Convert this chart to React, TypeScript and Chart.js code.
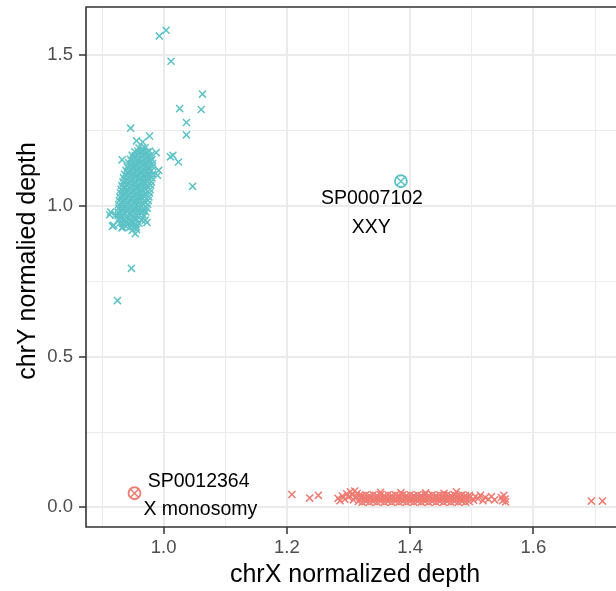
import React, { useEffect, useRef } from "react";
import { Chart, registerables } from "chart.js";
Chart.register(...registerables);

const xTickValues = [0.9, 1.0, 1.1, 1.2, 1.3, 1.4, 1.5, 1.6, 1.7];
const xMajorTicks = [1.0, 1.2, 1.4, 1.6];
const yTickValues = [0, 0.25, 0.5, 0.75, 1.0, 1.25, 1.5];
const yMajorTicks = [0, 0.5, 1.0, 1.5];
const xRange = [0.874, 1.734];
const yRange = [-0.065, 1.66];

const xAxisTitle = "chrX normalized depth";
const yAxisTitle = "chrY normalied depth";

const cyanColor = "#5CC2C6";
const redColor = "#EF7A71";

// cyan group: scattered samples
const cyanOutliers: [number, number][] = [
  [1.004, 1.583], [0.993, 1.564], [1.012, 1.48], [1.063, 1.371], [1.026, 1.323], [1.061, 1.32],
  [1.037, 1.277], [1.037, 1.236], [0.9465, 1.258], [0.956, 1.216], [0.966, 1.212], [0.977, 1.232],
  [0.988, 1.177], [1.011, 1.163], [1.015, 1.168], [1.024, 1.146], [0.9326, 1.153], [0.992, 1.118],
  [0.99, 1.102], [1.047, 1.065], [0.914, 0.98], [0.922, 0.969], [0.9125, 0.971], [0.919, 0.936],
  [0.917, 0.933], [0.9326, 0.927], [0.949, 0.919], [0.954, 0.908], [0.956, 0.922], [0.97, 0.953],
  [0.973, 0.945], [0.9477, 0.793], [0.925, 0.686],
];

// cyan group: dense cluster
const cyanCluster: [number, number][] = [
  [0.960, 1.192], [0.965, 1.190], [0.970, 1.193],
  [0.953, 1.180], [0.958, 1.182], [0.963, 1.178], [0.968, 1.181], [0.973, 1.179], [0.977, 1.182],
  [0.949, 1.168], [0.954, 1.166], [0.959, 1.170], [0.964, 1.167], [0.969, 1.169], [0.974, 1.166], [0.979, 1.168],
  [0.946, 1.155], [0.951, 1.157], [0.956, 1.154], [0.961, 1.156], [0.966, 1.153], [0.971, 1.157], [0.976, 1.155], [0.981, 1.154],
  [0.943, 1.143], [0.948, 1.141], [0.953, 1.144], [0.958, 1.142], [0.963, 1.145], [0.968, 1.141], [0.973, 1.143], [0.978, 1.144], [0.982, 1.141],
  [0.941, 1.130], [0.946, 1.132], [0.951, 1.129], [0.956, 1.131], [0.961, 1.128], [0.966, 1.132], [0.971, 1.130], [0.976, 1.129], [0.982, 1.131],
  [0.939, 1.118], [0.944, 1.116], [0.949, 1.119], [0.954, 1.117], [0.959, 1.120], [0.964, 1.116], [0.969, 1.118], [0.974, 1.119], [0.980, 1.117],
  [0.937, 1.105], [0.942, 1.107], [0.947, 1.104], [0.952, 1.106], [0.957, 1.103], [0.962, 1.107], [0.967, 1.105], [0.972, 1.104], [0.977, 1.106], [0.982, 1.105],
  [0.935, 1.093], [0.940, 1.091], [0.945, 1.094], [0.950, 1.092], [0.955, 1.095], [0.960, 1.091], [0.965, 1.093], [0.970, 1.094], [0.975, 1.092], [0.981, 1.093],
  [0.934, 1.080], [0.939, 1.082], [0.944, 1.079], [0.949, 1.081], [0.954, 1.078], [0.959, 1.082], [0.964, 1.080], [0.969, 1.079], [0.974, 1.081], [0.980, 1.080],
  [0.932, 1.068], [0.937, 1.066], [0.942, 1.069], [0.947, 1.067], [0.952, 1.070], [0.957, 1.066], [0.962, 1.068], [0.967, 1.069], [0.972, 1.067], [0.979, 1.068],
  [0.931, 1.055], [0.936, 1.057], [0.941, 1.054], [0.946, 1.056], [0.951, 1.053], [0.956, 1.057], [0.961, 1.055], [0.966, 1.054], [0.971, 1.056], [0.978, 1.055],
  [0.930, 1.043], [0.935, 1.041], [0.940, 1.044], [0.945, 1.042], [0.950, 1.045], [0.955, 1.041], [0.960, 1.043], [0.965, 1.044], [0.970, 1.042], [0.977, 1.043],
  [0.929, 1.030], [0.934, 1.032], [0.939, 1.029], [0.944, 1.031], [0.949, 1.028], [0.954, 1.032], [0.959, 1.030], [0.964, 1.029], [0.969, 1.031], [0.976, 1.030],
  [0.928, 1.018], [0.933, 1.016], [0.938, 1.019], [0.943, 1.017], [0.948, 1.020], [0.953, 1.016], [0.958, 1.018], [0.963, 1.019], [0.968, 1.017], [0.975, 1.018],
  [0.927, 1.005], [0.932, 1.007], [0.937, 1.004], [0.942, 1.006], [0.947, 1.003], [0.952, 1.007], [0.957, 1.005], [0.962, 1.004], [0.967, 1.006], [0.974, 1.005],
  [0.927, 0.993], [0.932, 0.991], [0.937, 0.994], [0.942, 0.992], [0.947, 0.995], [0.952, 0.991], [0.957, 0.993], [0.962, 0.994], [0.968, 0.992], [0.973, 0.993],
  [0.926, 0.980], [0.931, 0.982], [0.936, 0.979], [0.941, 0.981], [0.946, 0.978], [0.951, 0.982], [0.956, 0.980], [0.961, 0.979], [0.966, 0.981], [0.971, 0.980],
  [0.926, 0.968], [0.931, 0.966], [0.936, 0.969], [0.941, 0.967], [0.946, 0.970], [0.951, 0.966], [0.956, 0.968], [0.961, 0.969], [0.968, 0.967],
  [0.927, 0.955], [0.932, 0.957], [0.937, 0.954], [0.942, 0.956], [0.947, 0.953], [0.952, 0.957], [0.957, 0.955], [0.964, 0.954],
  [0.929, 0.943], [0.934, 0.941], [0.939, 0.944], [0.944, 0.942], [0.949, 0.945], [0.954, 0.941], [0.960, 0.943],
  [0.933, 0.930], [0.939, 0.932], [0.945, 0.929], [0.951, 0.931], [0.956, 0.930],
];

// red group: scattered samples
const redOutliers: [number, number][] = [
  [1.208, 0.043], [1.237, 0.031], [1.251, 0.040], [1.694, 0.021], [1.712, 0.021],
  [1.283, 0.030], [1.286, 0.022], [1.290, 0.038], [1.294, 0.027], [1.297, 0.045], [1.300, 0.034],
  [1.303, 0.052], [1.306, 0.041], [1.308, 0.025], [1.310, 0.054], [1.312, 0.035], [1.314, 0.047],
  [1.316, 0.020], [1.318, 0.040], [1.352, 0.050], [1.385, 0.049], [1.425, 0.048], [1.455, 0.047],
  [1.475, 0.052], [1.503, 0.024], [1.506, 0.036], [1.510, 0.029], [1.514, 0.040], [1.518, 0.022],
  [1.522, 0.033], [1.527, 0.027], [1.532, 0.036], [1.537, 0.025], [1.548, 0.033], [1.550, 0.022],
  [1.552, 0.040], [1.554, 0.028], [1.555, 0.018],
];

// red group: dense band
const redCluster: [number, number][] = [
  [1.322, 0.017], [1.322, 0.028], [1.322, 0.039], [1.328, 0.020], [1.328, 0.031], [1.328, 0.042],
  [1.334, 0.017], [1.334, 0.028], [1.334, 0.039], [1.340, 0.020], [1.340, 0.031], [1.340, 0.042],
  [1.346, 0.017], [1.346, 0.028], [1.346, 0.039], [1.352, 0.020], [1.352, 0.031], [1.352, 0.042],
  [1.358, 0.017], [1.358, 0.028], [1.358, 0.039], [1.364, 0.020], [1.364, 0.031], [1.364, 0.042],
  [1.370, 0.017], [1.370, 0.028], [1.370, 0.039], [1.376, 0.020], [1.376, 0.031], [1.376, 0.042],
  [1.382, 0.017], [1.382, 0.028], [1.382, 0.039], [1.388, 0.020], [1.388, 0.031], [1.388, 0.042],
  [1.394, 0.017], [1.394, 0.028], [1.394, 0.039], [1.400, 0.020], [1.400, 0.031], [1.400, 0.042],
  [1.406, 0.017], [1.406, 0.028], [1.406, 0.039], [1.412, 0.020], [1.412, 0.031], [1.412, 0.042],
  [1.418, 0.017], [1.418, 0.028], [1.418, 0.039], [1.424, 0.020], [1.424, 0.031], [1.424, 0.042],
  [1.430, 0.017], [1.430, 0.028], [1.430, 0.039], [1.436, 0.020], [1.436, 0.031], [1.436, 0.042],
  [1.442, 0.017], [1.442, 0.028], [1.442, 0.039], [1.448, 0.020], [1.448, 0.031], [1.448, 0.042],
  [1.454, 0.017], [1.454, 0.028], [1.454, 0.039], [1.460, 0.020], [1.460, 0.031], [1.460, 0.042],
  [1.466, 0.017], [1.466, 0.028], [1.466, 0.039], [1.472, 0.020], [1.472, 0.031], [1.472, 0.042],
  [1.478, 0.017], [1.478, 0.028], [1.478, 0.039], [1.484, 0.020], [1.484, 0.031], [1.484, 0.042],
  [1.490, 0.017], [1.490, 0.028], [1.490, 0.039], [1.496, 0.020], [1.496, 0.031], [1.496, 0.040],
];

const highlightedCyan: [number, number][] = [[1.385, 1.082]];
const highlightedRed: [number, number][] = [[0.9527, 0.047]];

const sampleLabels = [
  { text: "SP0007102", x: 1.338, y: 1.008 },
  { text: "XXY", x: 1.337, y: 0.91 },
  { text: "SP0012364", x: 1.0567, y: 0.0674 },
  { text: "X monosomy", x: 1.0595, y: -0.0266 },
];

const FONT = "'Liberation Sans', Arial, Helvetica, sans-serif";

const toPts = (arr: [number, number][]) => arr.map(([x, y]) => ({ x, y }));
const isIn = (list: number[], v: number) => list.some((m) => Math.abs(m - v) < 1e-9);

const overlayPlugin = {
  id: "overlay",
  afterDatasetsDraw(chart: any) {
    const { ctx, chartArea: a, scales } = chart;
    ctx.save();
    ctx.strokeStyle = "#333333";
    ctx.lineWidth = 1.6;
    ctx.beginPath();
    ctx.moveTo(a.right + 2, a.top);
    ctx.lineTo(a.left, a.top);
    ctx.lineTo(a.left, a.bottom);
    ctx.lineTo(a.right + 2, a.bottom);
    ctx.stroke();
    ctx.fillStyle = "#000000";
    ctx.font = `19.5px ${FONT}`;
    ctx.textAlign = "center";
    ctx.textBaseline = "alphabetic";
    for (const l of sampleLabels) {
      ctx.fillText(l.text, scales.x.getPixelForValue(l.x), scales.y.getPixelForValue(l.y));
    }
    ctx.restore();
  },
  afterDraw(chart: any) {
    const { ctx, chartArea: a, height } = chart;
    ctx.save();
    ctx.fillStyle = "#000000";
    ctx.font = `25px ${FONT}`;
    ctx.textAlign = "center";
    ctx.textBaseline = "alphabetic";
    ctx.fillText(xAxisTitle, (a.left + a.right) / 2 + 4, height - 9);
    ctx.translate(35, (a.top + a.bottom) / 2 - 6);
    ctx.rotate(-Math.PI / 2);
    ctx.fillText(yAxisTitle, 0, 0);
    ctx.restore();
  },
};

export default function App() {
  const ref = useRef<HTMLCanvasElement>(null);
  useEffect(() => {
    const pointDs = (data: [number, number][], color: string, style: string, radius: number, width: number) => ({
      data: toPts(data),
      pointStyle: style,
      pointRadius: radius,
      pointBorderWidth: width,
      borderColor: color,
      backgroundColor: "rgba(0,0,0,0)",
      pointBackgroundColor: "rgba(0,0,0,0)",
      pointBorderColor: color,
      showLine: false,
      clip: false,
    });
    const chart = new Chart(ref.current!, {
      type: "scatter",
      data: {
        datasets: [
          pointDs(redOutliers, redColor, "crossRot", 5, 1.5),
          pointDs(redCluster, redColor, "crossRot", 5, 1.5),
          pointDs(cyanOutliers, cyanColor, "crossRot", 5, 1.5),
          pointDs(cyanCluster, cyanColor, "crossRot", 5, 1.5),
          pointDs(highlightedRed, redColor, "circle", 6, 1.8),
          pointDs(highlightedRed, redColor, "crossRot", 6, 1.5),
          pointDs(highlightedCyan, cyanColor, "circle", 6, 1.8),
          pointDs(highlightedCyan, cyanColor, "crossRot", 6, 1.5),
        ] as any,
      },
      options: {
        animation: false,
        responsive: false,
        devicePixelRatio: 1,
        events: [],
        layout: { autoPadding: false, padding: { top: 7, left: 0, right: 0, bottom: 0 } },
        plugins: { legend: { display: false }, tooltip: { enabled: false }, title: { display: false } },
        scales: {
          x: {
            type: "linear",
            min: xRange[0],
            max: xRange[1],
            afterBuildTicks: (s: any) => {
              s.ticks = xTickValues.map((v) => ({ value: v }));
            },
            afterFit: (s: any) => {
              s.height = 64;
              s.paddingLeft = 0;
              s.paddingRight = 0;
            },
            border: { display: false },
            grid: {
              color: "#EBEBEB",
              lineWidth: (c: any) => (isIn(xMajorTicks, c.tick?.value) ? 2 : 1),
              tickColor: (c: any) => (isIn(xMajorTicks, c.tick?.value) ? "#333333" : "rgba(0,0,0,0)"),
              tickWidth: 1.5,
              tickLength: 7,
            },
            ticks: {
              autoSkip: false,
              maxRotation: 0,
              padding: 3,
              color: "#4D4D4D",
              font: { size: 18.5, family: FONT },
              callback: (v: any) => (isIn(xMajorTicks, Number(v)) ? Number(v).toFixed(1) : ""),
            },
          },
          y: {
            type: "linear",
            min: yRange[0],
            max: yRange[1],
            afterBuildTicks: (s: any) => {
              s.ticks = yTickValues.map((v) => ({ value: v }));
            },
            afterFit: (s: any) => {
              s.width = 86;
              s.paddingTop = 0;
              s.paddingBottom = 0;
            },
            border: { display: false },
            grid: {
              color: "#EBEBEB",
              lineWidth: (c: any) => (isIn(yMajorTicks, c.tick?.value) ? 2 : 1),
              tickColor: (c: any) => (isIn(yMajorTicks, c.tick?.value) ? "#333333" : "rgba(0,0,0,0)"),
              tickWidth: 1.5,
              tickLength: 7,
            },
            ticks: {
              autoSkip: false,
              padding: 6,
              color: "#4D4D4D",
              font: { size: 18.5, family: FONT },
              callback: (v: any) => (isIn(yMajorTicks, Number(v)) ? Number(v).toFixed(1) : ""),
            },
          },
        },
      },
      plugins: [overlayPlugin],
    });
    return () => chart.destroy();
  }, []);
  return (
    <div style={{ position: "absolute", left: 0, top: 0, width: 616, height: 591, background: "#ffffff" }}>
      <canvas ref={ref} width={616} height={591} style={{ display: "block", width: 616, height: 591 }} />
    </div>
  );
}
